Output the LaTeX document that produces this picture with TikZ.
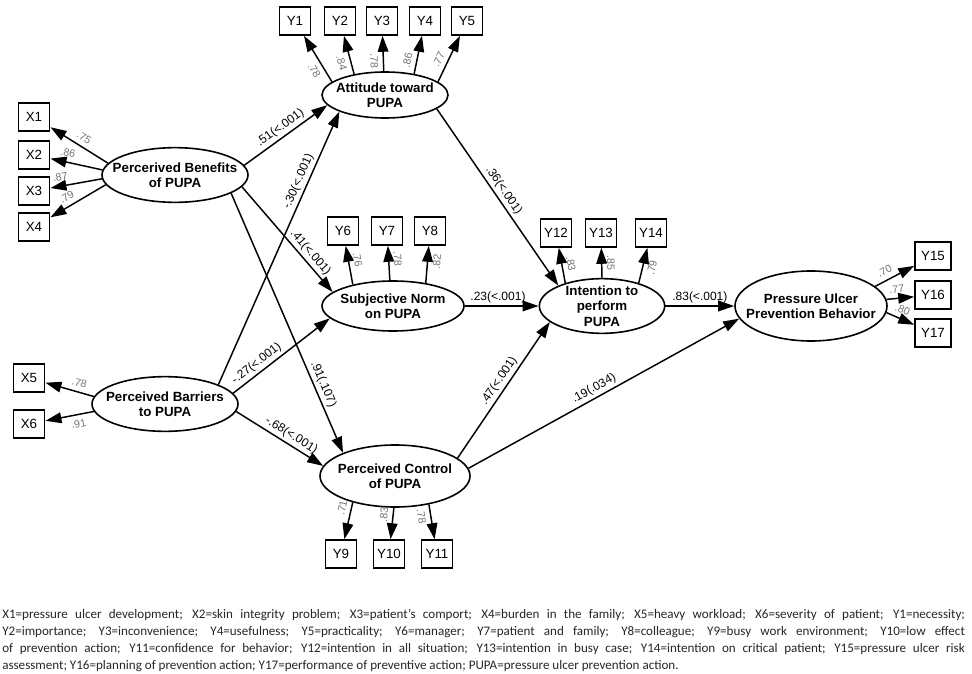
\documentclass[tikz,border=0pt]{standalone}
\usepackage{fontspec}
\setmainfont{Liberation Sans}
\newfontfamily\notefont{Carlito}
\usetikzlibrary{shapes.geometric}
\usetikzlibrary{arrows.meta}

\tikzset{
  latent/.style={draw, ellipse, line width=1.2pt, inner sep=0pt},
  lattext/.style={font=\bfseries\fontsize{10}{11.5}\selectfont, align=center, inner sep=0pt},
  obs/.style={draw, rectangle, line width=1.2pt, minimum width=23.5pt, minimum height=21pt, inner sep=0pt, font=\fontsize{10}{12}\selectfont},
  arr/.style={-{Triangle[length=12pt, width=8pt]}, line width=1.1pt},
  load/.style={sloped, font=\fontsize{8}{9}\selectfont, text=black!55, inner sep=3.5pt},
  coef/.style={sloped, font=\fontsize{9}{10}\selectfont, inner sep=2pt},
}

\begin{document}
\begin{tikzpicture}[x=0.75pt, y=-0.75pt]
\useasboundingbox (0,0) rectangle (972,674);

% Latent variables
\node at (385,95) (att) [latent, minimum width=94.5pt, minimum height=34.5pt, label={[lattext]center:{Attitude toward\\PUPA}}] {};
\node at (175,175) (ben) [latent, minimum width=109.5pt, minimum height=41pt, label={[lattext]center:{Percerived Benefits\\of PUPA}}] {};
\node at (165,404) (bar) [latent, minimum width=109.5pt, minimum height=41pt, label={[lattext]center:{Perceived Barriers\\to PUPA}}] {};
\node at (393,306) (sn) [latent, minimum width=106.5pt, minimum height=37.5pt, label={[lattext]center:{Subjective Norm\\on PUPA}}] {};
\node at (395,476) (ctl) [latent, minimum width=112.5pt, minimum height=46.5pt, label={[lattext]center:{Perceived Control\\of PUPA}}] {};
\node at (602,306) (int) [latent, minimum width=94pt, minimum height=41pt, label={[lattext]center:{Intention to\\perform\\PUPA}}] {};
\node at (811,306) (beh) [latent, minimum width=114pt, minimum height=52.5pt, label={[lattext]center:{Pressure Ulcer\\Prevention Behavior}}] {};

% Observed variables
\node at (34,117) (X1) [obs] {X1};
\node at (34,155) (X2) [obs] {X2};
\node at (34,191) (X3) [obs] {X3};
\node at (34,227) (X4) [obs] {X4};
\node at (29,378) (X5) [obs] {X5};
\node at (29,424) (X6) [obs] {X6};
\node at (295,21) (Y1) [obs] {Y1};
\node at (340,21) (Y2) [obs] {Y2};
\node at (382,21) (Y3) [obs] {Y3};
\node at (425,21) (Y4) [obs] {Y4};
\node at (467,21) (Y5) [obs] {Y5};
\node at (343,231) (Y6) [obs] {Y6};
\node at (387,231) (Y7) [obs] {Y7};
\node at (430,231) (Y8) [obs] {Y8};
\node at (341,554) (Y9) [obs] {Y9};
\node at (389,554) (Y10) [obs] {Y10};
\node at (437,554) (Y11) [obs] {Y11};
\node at (556,233) (Y12) [obs] {Y12};
\node at (601,233) (Y13) [obs] {Y13};
\node at (651,233) (Y14) [obs] {Y14};
\node at (933,256) (Y15) [obs, minimum width=27pt] {Y15};
\node at (933,295) (Y16) [obs, minimum width=27pt] {Y16};
\node at (933,333) (Y17) [obs, minimum width=27pt] {Y17};

% Loadings
\draw[arr] (ben.170) -- (X1) node[load, pos=.5, above] {.75};
\draw[arr] (ben.176) -- (X2) node[load, pos=.7, above] {.86};
\draw[arr] (ben.183) -- (X3) node[load, pos=.78, above] {.87};
\draw[arr] (ben.188) -- (X4) node[load, pos=.62, above] {.79};
\draw[arr] (bar.174) -- (X5) node[load, pos=.35, above] {.78};
\draw[arr] (bar.186) -- (X6) node[load, pos=.35, below] {.91};
\draw[arr] (att.166) -- (Y1) node[load, pos=.35, below] {.78};
\draw[arr] (att.146) -- (Y2) node[load, pos=.35, below] {.84};
\draw[arr] (att.93) -- (Y3) node[load, pos=.3, below] {.78};
\draw[arr] (att.36) -- (Y4) node[load, pos=.3, above] {.86};
\draw[arr] (att.14) -- (Y5) node[load, pos=.4, above] {.77};
\draw[arr] (sn.152) -- (Y6) node[load, pos=.6, above] {.76};
\draw[arr] (sn.97) -- (Y7) node[load, pos=.6, above] {.78};
\draw[arr] (sn.35) -- (Y8) node[load, pos=.6, below] {.82};
\draw[arr] (ctl.212) -- (Y9) node[load, pos=.2, above] {.71};
\draw[arr] (ctl.268) -- (Y10) node[load, pos=.25, above] {.83};
\draw[arr] (ctl.320) -- (Y11) node[load, pos=.3, below] {.78};
\draw[arr] (int.148) -- (Y12) node[load, pos=.5, above] {.83};
\draw[arr] (int.90) -- (Y13) node[load, pos=.5, above] {.85};
\draw[arr] (int.32) -- (Y14) node[load, pos=.5, below] {.79};
\draw[arr] (beh.17) -- (Y15) node[load, pos=.35, above] {.70};
\draw[arr] (beh.5) -- (Y16) node[load, pos=.4, above] {.77};
\draw[arr] (beh.-5) -- (Y17) node[load, pos=.45, above] {.80};

% Paths
\draw[arr] (ben.8) -- (att.190) node[coef, pos=.5, above] {.51(<.001)};
\draw[arr] (bar.20) -- (att.200) node[coef, pos=.73, above] {-.30(<.001)};
\draw[arr] (ben.-10) -- (sn.167) node[coef, pos=.68, above] {.41(<.001)};
\draw[arr] (bar.9) -- (sn.191) node[coef, pos=.3, above] {-.27(<.001)};
\draw[arr] (ben.-18) -- (ctl.156) node[coef, pos=.75, above] {.91(.107)};
\draw[arr] (bar.-6) -- (ctl.172) node[coef, pos=.58, above] {-.68(<.001)};
\draw[arr] (att.-15) -- (int.155) node[coef, pos=.49, above] {.36(<.001)};
\draw[arr] (sn) -- (int) node[coef, pos=.45, above] {.23(<.001)};
\draw[arr] (ctl.16) -- (int.197) node[coef, pos=.53, above] {.47(<.001)};
\draw[arr] (ctl.6) -- (beh.190) node[coef, pos=.48, above] {.19(.034)};
\draw[arr] (int) -- (beh) node[coef, pos=.5, above] {.83(<.001)};

% Note
\node at (2,609) (note) [anchor=north west, text width=722pt, align=justify, inner sep=0pt, text=black!85, font=\notefont\fontsize{9.8}{12.75}\selectfont] {X1=pressure ulcer development; X2=skin integrity problem; X3=patient’s comport; X4=burden in the family; X5=heavy workload; X6=severity of patient; Y1=necessity;\linebreak Y2=importance; Y3=inconvenience; Y4=usefulness; Y5=practicality; Y6=manager; Y7=patient and family; Y8=colleague; Y9=busy work environment; Y10=low effect\linebreak of prevention action; Y11=confidence for behavior; Y12=intention in all situation; Y13=intention in busy case; Y14=intention on critical patient; Y15=pressure ulcer risk\linebreak assessment; Y16=planning of prevention action; Y17=performance of preventive action; PUPA=pressure ulcer prevention action.};

\end{tikzpicture}
\end{document}
